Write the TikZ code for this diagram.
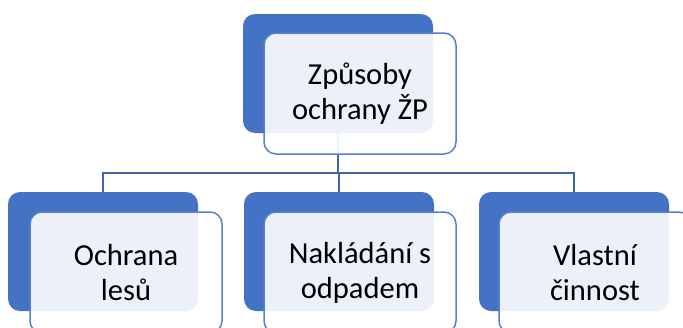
\documentclass[tikz,border=0pt]{standalone}
\usepackage{fontspec}
\setmainfont{Carlito}
\definecolor{accblue}{HTML}{4472C4}
\definecolor{linkblue}{HTML}{3F67B0}
\begin{document}
\begin{tikzpicture}[x=1pt,y=1pt,
  backbox/.style={fill=accblue, draw=none, rounded corners=12pt, minimum width=190pt, minimum height=119pt, inner sep=0pt},
  frontbox/.style={fill=white, fill opacity=0.9, text opacity=1, draw=accblue!90!white, line width=1.5pt, rounded corners=12pt, minimum width=192pt, minimum height=121pt, inner sep=0pt, align=center, font=\fontsize{30.5}{35}\selectfont},
  link/.style={draw=linkblue, line width=1.8pt}]
\useasboundingbox (0,0) rectangle (683,-327);
\clip (0,0) rectangle (683,-327);
% back boxes
\node[backbox] (tb) at (338,-73.5) {};
\node[backbox] (b1) at (103,-251.5) {};
\node[backbox] (b2) at (339,-251.5) {};
\node[backbox] (b3) at (574,-251.5) {};
% connectors
\coordinate (bus) at (338,-173);
\draw[link] (tb.south) -- (bus);
\draw[link] (b1.north) |- (bus) -| (b3.north);
\draw[link] (bus -| b2.north) -- (b2.north);
% front boxes
\node[frontbox] (tf) at (360,-93.5) {Způsoby\\ochrany ŽP};
\node[frontbox] (f1) at (126,-272.5) {Ochrana\\lesů};
\node[frontbox] (f2) at (360,-272.5) {Nakládání s\\odpadem};
\node[frontbox] (f3) at (595,-272.5) {Vlastní\\činnost};
\end{tikzpicture}
\end{document}
